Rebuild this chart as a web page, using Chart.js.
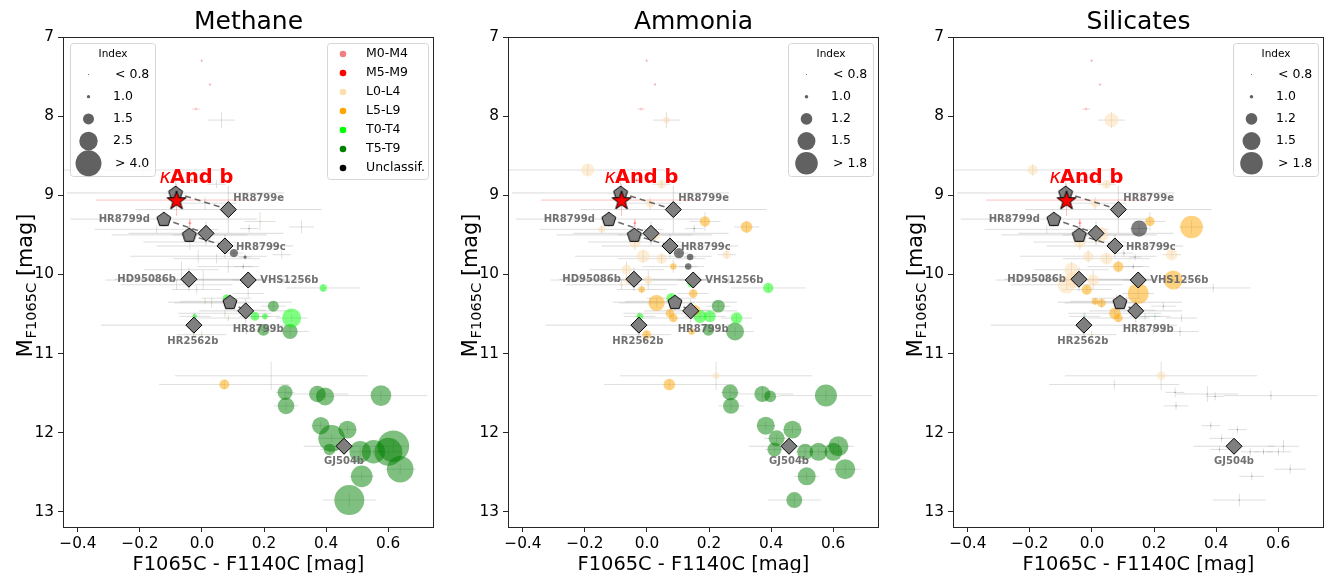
<!DOCTYPE html>
<html>
<head>
<meta charset="utf-8">
<script src="https://cdn.jsdelivr.net/npm/chart.js@4.4.1/dist/chart.umd.min.js"></script>
<style>
  body { margin: 0; background: #fff; width: 1328px; height: 573px; overflow: hidden; position: relative; }
  canvas { position: absolute; top: 0; }
</style>
</head>
<body>
<canvas id="c0" width="445" height="573" style="left:0px"></canvas>
<canvas id="c1" width="445" height="573" style="left:445px"></canvas>
<canvas id="c2" width="445" height="573" style="left:890px"></canvas>
<script>
const FONT = "'DejaVu Sans', sans-serif";

// field objects: colour F1065C-F1140C, absolute mag M_F1065C
const fieldX = [
  -0.001, 0.026, -0.019, -0.033, -0.039, 0.063, -0.191, 0.047,
  0.010, 0.187, 0.321, -0.146, -0.039, 0.026, -0.012, 0.047,
  0.103, 0.139, 0.133, 0.152, 0.085, 0.257, -0.066, -0.060,
  -0.082, -0.017, 0.004, 0.144, 0.031, 0.079, 0.074, 0.085,
  0.155, 0.144, 0.171, 0.203, 0.230, 0.289, 0.284, 0.198,
  -0.001, -0.023, 0.391, 0.262, 0.149, 0.010, 0.072, 0.223,
  0.268, 0.271, 0.372, 0.397, 0.577, 0.383, 0.469, 0.418,
  0.411, 0.510, 0.553, 0.601, 0.617, 0.639, 0.515, 0.475];
const fieldY = [
  7.30, 7.60, 7.91, 8.81, 9.35, 8.05, 8.68, 8.86,
  9.10, 9.33, 9.40, 9.43, 9.59, 9.50, 9.77, 9.80,
  9.73, 9.78, 9.90, 9.42, 9.90, 9.75, 9.94, 10.07,
  10.13, 10.19, 10.07, 10.11, 10.36, 10.30, 10.49, 10.55,
  10.45, 10.72, 10.53, 10.53, 10.40, 10.55, 10.72, 10.70,
  10.76, 10.53, 10.17, 10.07, 10.24, 10.34, 11.39, 11.28,
  11.49, 11.66, 11.51, 11.54, 11.53, 11.91, 11.96, 12.07,
  12.21, 12.24, 12.24, 12.24, 12.17, 12.46, 12.55, 12.85];
const fieldXErr = [
  0.004, 0.004, 0.012, 0.010, 0.005, 0.043, 0.27, 0.03,
  0.10, 0.05, 0.04, 0.20, 0.15, 0.12, 0.22, 0.14,
  0.03, 0.02, 0.03, 0.03, 0.10, 0.03, 0.12, 0.25,
  0.18, 0.08, 0.20, 0.02, 0.12, 0.08, 0.15, 0.10,
  0.05, 0.03, 0.05, 0.05, 0.04, 0.05, 0.06, 0.04,
  0.08, 0.05, 0.12, 0.06, 0.05, 0.08, 0.21, 0.31,
  0.03, 0.04, 0.10, 0.03, 0.15, 0.03, 0.03, 0.04,
  0.03, 0.03, 0.03, 0.04, 0.05, 0.05, 0.04, 0.085];
const fieldYErr = [
  0.02, 0.02, 0.02, 0.02, 0.05, 0.10, 0.07, 0.05,
  0.08, 0.12, 0.08, 0.05, 0.10, 0.07, 0.08, 0.06,
  0.05, 0.04, 0.04, 0.05, 0.08, 0.05, 0.10, 0.05,
  0.06, 0.05, 0.12, 0.04, 0.06, 0.05, 0.05, 0.04,
  0.05, 0.04, 0.04, 0.04, 0.05, 0.05, 0.06, 0.05,
  0.05, 0.05, 0.05, 0.05, 0.06, 0.04, 0.06, 0.18,
  0.06, 0.05, 0.10, 0.05, 0.06, 0.05, 0.05, 0.05,
  0.04, 0.05, 0.04, 0.05, 0.08, 0.06, 0.05, 0.08];
const fieldType = [
  'M0-M4', 'M0-M4', 'M0-M4', 'M5-M9', 'M5-M9', 'L0-L4', 'L0-L4', 'L0-L4',
  'L0-L4', 'L5-L9', 'L5-L9', 'L0-L4', 'L0-L4', 'L0-L4', 'L0-L4', 'L0-L4',
  'Unclassif.', 'Unclassif.', 'Unclassif.', 'Unclassif.', 'L5-L9', 'L0-L4', 'L0-L4', 'L0-L4',
  'L0-L4', 'L5-L9', 'L0-L4', 'T0-T4', 'L5-L9', 'T0-T4', 'L5-L9', 'L5-L9',
  'L5-L9', 'L5-L9', 'T0-T4', 'T0-T4', 'T5-T9', 'T0-T4', 'T5-T9', 'T5-T9',
  'L5-L9', 'T0-T4', 'T0-T4', 'L5-L9', 'L5-L9', 'L5-L9', 'L5-L9', 'L0-L4',
  'T5-T9', 'T5-T9', 'T5-T9', 'T5-T9', 'T5-T9', 'T5-T9', 'T5-T9', 'T5-T9',
  'T5-T9', 'T5-T9', 'T5-T9', 'T5-T9', 'T5-T9', 'T5-T9', 'T5-T9', 'T5-T9'];

// spectral indices per object (one list per panel)
const methaneIdx = [
  0.7, 0.7, 0.7, 0.7, 0.7, 0.7, 0.7, 0.7,
  0.7, 0.7, 0.7, 0.7, 0.7, 0.7, 0.7, 0.7,
  1.25, 1.0, 0.8, 0.8, 0.75, 0.7, 0.7, 0.7,
  0.7, 0.75, 0.7, 1.1, 0.75, 1.2, 0.75, 0.75,
  0.75, 0.75, 1.3, 1.1, 1.5, 2.6, 2.0, 1.6,
  0.75, 1.05, 1.2, 0.7, 0.7, 0.7, 1.4, 0.7,
  1.97, 2.2, 2.2, 2.42, 2.88, 2.33, 2.42, 4.17,
  1.56, 3.07, 3.44, 4.51, 5.5, 4.17, 3.07, 5.04];
const ammoniaIdx = [
  0.7, 0.7, 0.7, 0.7, 0.7, 1.05, 1.25, 1.1,
  1.1, 1.15, 1.2, 1.05, 1.2, 1.15, 1.25, 1.15,
  1.15, 1.05, 1.05, 0.8, 1.05, 1.1, 1.15, 1.1,
  1.0, 1.05, 1.1, 1.1, 1.4, 1.15, 1.1, 1.1,
  1.15, 1.05, 1.25, 1.2, 1.25, 1.2, 1.5, 1.2,
  1.1, 1.05, 1.15, 0.8, 1.1, 0.9, 1.2, 1.05,
  1.39, 1.39, 1.39, 1.21, 1.76, 1.5, 1.5, 1.39,
  1.3, 1.39, 1.5, 1.5, 1.63, 1.63, 1.5, 1.39];
const silicatesIdx = [
  0.7, 0.7, 0.7, 0.7, 0.7, 1.3, 1.15, 1.1,
  1.1, 1.12, 1.8, 0.9, 1.2, 1.4, 1.15, 1.2,
  0.8, 0.8, 0.8, 1.4, 1.15, 1.2, 1.3, 1.4,
  1.5, 1.15, 1.2, 0.8, 1.1, 0.75, 1.2, 1.1,
  0.8, 0.75, 0.75, 0.75, 0.75, 0.75, 0.75, 0.75,
  0.75, 0.75, 0.7, 1.55, 1.7, 1.05, 0.7, 1.1,
  0.75, 0.75, 0.75, 0.75, 0.75, 0.75, 0.75, 0.8,
  0.75, 0.75, 0.8, 0.75, 0.75, 0.75, 0.8, 0.75];

// companions (p = pentagon, D = diamond)
const planetNames = ['HR8799e', 'HR8799e', 'HR8799d', 'HR8799d', 'HR8799c', 'HR8799c',
  'HR8799b', 'HR8799b', 'HD95086b', 'VHS1256b', 'HR2562b', 'GJ504b'];
const planetShape = ['p', 'D', 'p', 'D', 'p', 'D', 'p', 'D', 'D', 'D', 'D', 'D'];
const planetX = [-0.085, 0.085, -0.123, 0.013, -0.041, 0.074, 0.090, 0.141, -0.042, 0.149, -0.026, 0.458];
const planetY = [8.97, 9.18, 9.30, 9.48, 9.50, 9.64, 10.35, 10.46, 10.06, 10.07, 10.64, 12.17];
const planetXErr = [0.35, 0.30, 0.30, 0.25, 0.25, 0.22, 0.20, 0.15, 0.24, 0.05, 0.30, 0.13];
const planetYErr = [0.15, 0.30, 0.10, 0.15, 0.10, 0.15, 0.10, 0.15, 0.15, 0.05, 0.15, 0.06];
const hrPairs = [[0, 1], [2, 3], [4, 5], [6, 7]];

const kAndX = -0.082, kAndY = 9.06, kAndXErr = 0.26, kAndYErr = 0.2;

const panelTitles = ['Methane', 'Ammonia', 'Silicates'];
const panelIdx = [methaneIdx, ammoniaIdx, silicatesIdx];
const methaneLegendVals = [0.8, 1.0, 1.5, 2.5, 4.0];
const methaneLegendText = ['< 0.8', '1.0', '1.5', '2.5', '> 4.0'];
const otherLegendVals = [0.8, 1.0, 1.2, 1.5, 1.8];
const otherLegendText = ['< 0.8', '1.0', '1.2', '1.5', '> 1.8'];

const xTicks = [-0.4, -0.2, 0.0, 0.2, 0.4, 0.6];
const yTicks = [7, 8, 9, 10, 11, 12, 13];

const typeNames = ['M0-M4', 'M5-M9', 'L0-L4', 'L5-L9', 'T0-T4', 'T5-T9', 'Unclassif.'];
const typeColors = {
  'M0-M4': '240,128,128', 'M5-M9': '255,0,0', 'L0-L4': '255,222,173',
  'L5-L9': '255,165,0', 'T0-T4': '0,255,0', 'T5-T9': '0,128,0', 'Unclassif.': '0,0,0'
};

// label placement in pixels relative to the marker
const planetLabels = [
  [1, 5, -11, 'left'], [2, -14, 0, 'right'], [5, 11, 1, 'left'], [7, 12.5, 18.5, 'center'],
  [8, -13, 0, 'right'], [9, 12, 0.7, 'left'], [10, -1, 16, 'center'], [11, 0, 15.5, 'center']
];

const methaneRadius = i => Math.sqrt(Math.max(55 * (i - 0.95), 0.35));
const molRadius = i => Math.sqrt(Math.max(155 * (i - 0.98), 0.35));

function starImage() {
  const c = document.createElement('canvas');
  c.width = c.height = 24;
  const g = c.getContext('2d');
  g.translate(12, 12.8);
  g.beginPath();
  for (let k = 0; k < 10; k++) {
    const r = k % 2 ? 3.9 : 10;
    const a = -Math.PI / 2 + k * Math.PI / 5;
    g.lineTo(r * Math.cos(a), r * Math.sin(a));
  }
  g.closePath();
  g.fillStyle = '#ff0000';
  g.fill();
  g.lineWidth = 1;
  g.strokeStyle = '#000';
  g.stroke();
  return c;
}

function pentagonImage() {
  const c = document.createElement('canvas');
  c.width = c.height = 18;
  const g = c.getContext('2d');
  g.translate(9, 9.5);
  g.beginPath();
  for (let k = 0; k < 5; k++) {
    const a = -Math.PI / 2 + k * 2 * Math.PI / 5;
    g.lineTo(7.3 * Math.cos(a), 7.3 * Math.sin(a));
  }
  g.closePath();
  g.fillStyle = '#7f7f7f';
  g.fill();
  g.lineWidth = 1;
  g.strokeStyle = '#000';
  g.stroke();
  return c;
}

const starImg = starImage();
const pentImg = pentagonImage();

function legendBox(ctx, x, y, w, h) {
  ctx.save();
  ctx.beginPath();
  ctx.roundRect(x + 0.5, y + 0.5, w, h, 3);
  ctx.fillStyle = 'rgba(255,255,255,0.8)';
  ctx.fill();
  ctx.strokeStyle = '#d6d6d6';
  ctx.lineWidth = 1;
  ctx.stroke();
  ctx.restore();
}

function makePanel(p) {
  const idx = panelIdx[p];
  const rad = p === 0 ? methaneRadius : molRadius;
  const datasets = [];

  datasets.push({ data: [{ x: kAndX, y: kAndY }], pointStyle: starImg, pointRadius: 10, order: 0 });

  const diamonds = [], pents = [];
  planetX.forEach((x, k) => (planetShape[k] === 'D' ? diamonds : pents).push({ x, y: planetY[k] }));
  datasets.push({ data: diamonds, pointStyle: 'rectRot', pointRadius: 8, backgroundColor: '#7f7f7f',
    borderColor: '#000', borderWidth: 1, order: 1 });
  datasets.push({ data: pents, pointStyle: pentImg, pointRadius: 8, order: 1 });

  hrPairs.forEach(([a, b]) => datasets.push({
    data: [{ x: planetX[a], y: planetY[a] }, { x: planetX[b], y: planetY[b] }],
    showLine: true, pointRadius: 0, borderColor: 'rgba(90,90,90,0.9)', borderWidth: 1.5,
    borderDash: [6, 4], order: 2
  }));

  typeNames.forEach(t => {
    const pts = [];
    fieldX.forEach((x, k) => { if (fieldType[k] === t) pts.push({ x, y: fieldY[k], i: idx[k] }); });
    datasets.push({ data: pts, pointRadius: c => rad(c.raw.i), backgroundColor: `rgba(${typeColors[t]},0.5)`,
      borderWidth: 0, order: 3 });
  });

  const decor = {
    id: 'decor' + p,
    beforeDatasetsDraw(chart) {
      const { ctx, chartArea: a, scales: { x: sx, y: sy } } = chart;
      ctx.save();
      ctx.beginPath();
      ctx.rect(a.left, a.top, a.right - a.left, a.bottom - a.top);
      ctx.clip();
      ctx.lineWidth = 1;
      const bar = (x, y, xe, ye, col) => {
        const px = sx.getPixelForValue(x), py = sy.getPixelForValue(y);
        ctx.strokeStyle = col;
        ctx.beginPath();
        ctx.moveTo(sx.getPixelForValue(x - xe), py);
        ctx.lineTo(sx.getPixelForValue(x + xe), py);
        ctx.moveTo(px, sy.getPixelForValue(y - ye));
        ctx.lineTo(px, sy.getPixelForValue(y + ye));
        ctx.stroke();
      };
      fieldX.forEach((x, k) => {
        const t = fieldType[k];
        const col = t[0] === 'M' ? `rgba(${typeColors[t]},0.4)` : 'rgba(150,150,150,0.3)';
        bar(x, fieldY[k], fieldXErr[k], fieldYErr[k], col);
      });
      planetX.forEach((x, k) => bar(x, planetY[k], planetXErr[k], planetYErr[k], 'rgba(150,150,150,0.35)'));
      bar(kAndX, kAndY, kAndXErr, kAndYErr, 'rgba(255,0,0,0.25)');
      ctx.restore();
    },
    afterDraw(chart) {
      const { ctx, chartArea: a, scales: { x: sx, y: sy } } = chart;
      ctx.save();
      // companion labels
      ctx.font = 'bold 10px ' + FONT;
      ctx.fillStyle = 'rgba(105,105,105,0.95)';
      ctx.textBaseline = 'middle';
      planetLabels.forEach(([k, dx, dy, al]) => {
        ctx.textAlign = al;
        ctx.fillText(planetNames[k], sx.getPixelForValue(planetX[k]) + dx, sy.getPixelForValue(planetY[k]) + dy);
      });
      // kappa And b
      const kx = sx.getPixelForValue(kAndX), ky = sy.getPixelForValue(kAndY);
      ctx.fillStyle = '#ff0000';
      ctx.textBaseline = 'alphabetic';
      ctx.textAlign = 'left';
      ctx.font = 'italic 19.4px ' + FONT;
      ctx.fillText('\u03ba', kx - 17, ky - 17.5);
      ctx.font = 'bold 19.4px ' + FONT;
      ctx.fillText('And b', kx - 6.5, ky - 17.5);

      // frame
      ctx.strokeStyle = '#262626';
      ctx.lineWidth = 1;
      ctx.strokeRect(a.left + 0.5, a.top + 0.5, a.right - a.left - 1, a.bottom - a.top);

      // index legend
      const vals = p === 0 ? methaneLegendVals : otherLegendVals;
      const txt = p === 0 ? methaneLegendText : otherLegendText;
      const bx = p === 0 ? a.left + 7 : a.right - 91;
      legendBox(ctx, bx, 43, 85, 133);
      ctx.fillStyle = '#000';
      ctx.textAlign = 'center';
      ctx.textBaseline = 'middle';
      ctx.font = '10.5px ' + FONT;
      ctx.fillText('Index', bx + 43, 54);
      ctx.textAlign = 'left';
      ctx.font = '12.5px ' + FONT;
      vals.forEach((v, k) => {
        const yy = 74.5 + k * 22.2;
        ctx.fillStyle = 'rgba(0,0,0,0.62)';
        ctx.beginPath();
        ctx.arc(bx + 18.5, yy, rad(v), 0, Math.PI * 2);
        ctx.fill();
        ctx.fillStyle = '#000';
        ctx.fillText(txt[k], bx + (txt[k][0] === '<' || txt[k][0] === '>' ? 45 : 43), yy);
      });

      // spectral type legend (first panel only)
      if (p === 0) {
        const cx = a.right - 107;
        legendBox(ctx, cx, 43, 101, 136);
        typeNames.forEach((t, k) => {
          const yy = 54 + k * 19;
          ctx.fillStyle = `rgb(${typeColors[t]})`;
          ctx.beginPath();
          ctx.arc(cx + 16, yy, 3.3, 0, Math.PI * 2);
          ctx.fill();
          ctx.fillStyle = '#000';
          ctx.fillText(t, cx + 39, yy);
        });
      }

      // titles
      const mid = (a.left + a.right) / 2;
      ctx.textAlign = 'center';
      ctx.textBaseline = 'alphabetic';
      ctx.fillStyle = '#000';
      ctx.font = '25px ' + FONT;
      ctx.fillText(panelTitles[p], mid, 29);
      ctx.font = '19.4px ' + FONT;
      ctx.fillText('F1065C - F1140C [mag]', mid, 570);

      // y title with subscript
      ctx.translate(31.5, (a.top + a.bottom) / 2 + 4);
      ctx.rotate(-Math.PI / 2);
      ctx.textAlign = 'left';
      const big = '20.8px ' + FONT, small = '14.6px ' + FONT;
      ctx.font = big; const w1 = ctx.measureText('M').width;
      ctx.font = small; const w2 = ctx.measureText('F1065C').width;
      ctx.font = big; const w3 = ctx.measureText(' [mag]').width;
      const sx0 = -(w1 + w2 + w3) / 2;
      ctx.fillText('M', sx0, 0);
      ctx.font = small;
      ctx.fillText('F1065C', sx0 + w1 + 1, 4.5);
      ctx.font = big;
      ctx.fillText(' [mag]', sx0 + w1 + w2 + 1, 0);
      ctx.restore();
    }
  };

  const fmt = v => (v < 0 ? '\u2212' : '') + Math.abs(v).toFixed(1);

  new Chart(document.getElementById('c' + p), {
    type: 'scatter',
    data: { datasets },
    options: {
      responsive: false,
      animation: false,
      devicePixelRatio: 1,
      events: [],
      layout: { autoPadding: false, padding: { top: 37, right: 11, left: 0, bottom: 0 } },
      plugins: { legend: { display: false }, tooltip: { enabled: false } },
      scales: {
        x: {
          type: 'linear', min: -0.448, max: 0.748,
          afterBuildTicks: s => { s.ticks = xTicks.map(v => ({ value: v })); },
          afterFit: s => { s.height = 46; s.paddingLeft = 0; s.paddingRight = 0; },
          grid: { drawOnChartArea: false, tickLength: 5, tickColor: '#262626' },
          border: { display: false },
          ticks: { font: { family: FONT, size: 15.3 }, color: '#000', padding: 3, autoSkip: false,
            maxRotation: 0, callback: fmt }
        },
        y: {
          type: 'linear', reverse: true, min: 7, max: 13.19,
          afterBuildTicks: s => { s.ticks = yTicks.map(v => ({ value: v })); },
          afterFit: s => { s.width = 63; s.paddingTop = 0; s.paddingBottom = 0; },
          grid: { drawOnChartArea: false, tickLength: 5, tickColor: '#262626' },
          border: { display: false },
          ticks: { font: { family: FONT, size: 15.3 }, color: '#000', padding: 4, autoSkip: false,
            callback: v => String(v) }
        }
      }
    },
    plugins: [decor]
  });
}

[0, 1, 2].forEach(makePanel);
</script>
</body>
</html>
